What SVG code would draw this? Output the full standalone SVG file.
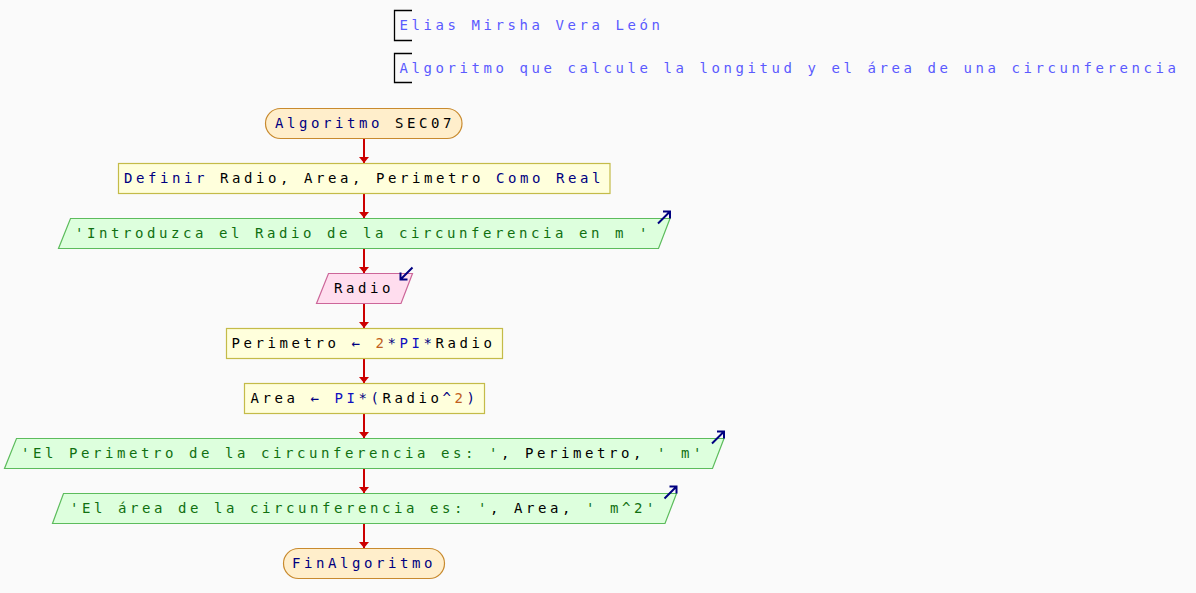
<svg xmlns="http://www.w3.org/2000/svg" width="1196" height="593" viewBox="0 0 1196 593">
<style>
text{font-family:"DejaVu Sans Mono","Liberation Mono",monospace;font-size:14px;letter-spacing:3.57px;fill:#000}
.hdr{fill:#5a5aff}
.kw{fill:#000080}
.str{fill:#107010}
.num{fill:#c06020}
.op{fill:#000080}
.cst{fill:#1010c0}
.term{fill:#ffeecb;stroke:#c88a2e;stroke-width:1.2}
.proc{fill:#ffffdc;stroke:#c4bb48;stroke-width:1.2}
.out{fill:#ddffdd;stroke:#5cbc5c;stroke-width:1.2}
.inp{fill:#ffddee;stroke:#cc6699;stroke-width:1.2}
.brk{fill:none;stroke:#000;stroke-width:1.3}
.icon{fill:none;stroke:#000080;stroke-width:2}
.conn line{stroke:#cc0000;stroke-width:2}
</style>
<defs>
<marker id="ah" viewBox="0 0 6 10" refX="6" refY="5" markerWidth="6" markerHeight="10" markerUnits="userSpaceOnUse" orient="auto">
<path d="M0,0 L6,5 L0,10 z" fill="#cc0000"/>
</marker>
</defs>
<rect x="0" y="0" width="1196" height="593" fill="#fafafa"/>

<g id="header1">
<path class="brk" d="M412,10.5 H394.5 V40.5 H412"/>
<text x="399.5" y="30" class="hdr">Elias Mirsha Vera León</text>
</g>
<g id="header2">
<path class="brk" d="M412,53.5 H394.5 V82.5 H412"/>
<text x="399.5" y="73" class="hdr">Algoritmo que calcule la longitud y el área de una circunferencia</text>
</g>

<g class="conn" id="connectors">
<line x1="364" y1="138.5" x2="364" y2="163" marker-end="url(#ah)"/>
<line x1="364" y1="193.5" x2="364" y2="218" marker-end="url(#ah)"/>
<line x1="364" y1="248.5" x2="364" y2="273" marker-end="url(#ah)"/>
<line x1="364" y1="303.5" x2="364" y2="328" marker-end="url(#ah)"/>
<line x1="364" y1="358.5" x2="364" y2="383" marker-end="url(#ah)"/>
<line x1="364" y1="413.5" x2="364" y2="438" marker-end="url(#ah)"/>
<line x1="364" y1="468.5" x2="364" y2="493" marker-end="url(#ah)"/>
<line x1="364" y1="523.5" x2="364" y2="548" marker-end="url(#ah)"/>
</g>

<g id="start">
<rect class="term" x="265.5" y="108.5" width="196.5" height="30" rx="15" ry="15"/>
<text x="275" y="128"><tspan class="kw">Algoritmo</tspan> SEC07</text>
</g>

<g id="definir">
<rect class="proc" x="118.5" y="163.5" width="491.5" height="30"/>
<text x="124" y="183"><tspan class="kw">Definir</tspan> Radio, Area, Perimetro <tspan class="kw">Como Real</tspan></text>
</g>

<g id="out1">
<polygon class="out" points="70.5,218.5 670,218.5 658.5,248.5 58.5,248.5"/>
<text x="75" y="238" class="str">'Introduzca el Radio de la circunferencia en m '</text>
<path class="icon" d="M658,223.5 L670,211.5 M663,211.5 H670 V218.5"/>
</g>

<g id="input">
<polygon class="inp" points="328.5,273.5 412.5,273.5 401,303.5 316.5,303.5"/>
<text x="334" y="293">Radio</text>
<path class="icon" d="M412.5,267.5 L400.5,279.5 M407.5,279.5 H400.5 V272.5"/>
</g>

<g id="perimetro">
<rect class="proc" x="226.5" y="328.5" width="276" height="30"/>
<text x="231.5" y="348">Perimetro <tspan class="op">←</tspan> <tspan class="num">2</tspan><tspan class="op">*</tspan><tspan class="cst">PI</tspan><tspan class="op">*</tspan>Radio</text>
</g>

<g id="area">
<rect class="proc" x="244.5" y="383.5" width="240" height="30"/>
<text x="250.5" y="403">Area <tspan class="op">←</tspan> <tspan class="cst">PI</tspan><tspan class="op">*(</tspan>Radio<tspan class="op">^</tspan><tspan class="num">2</tspan><tspan class="op">)</tspan></text>
</g>

<g id="out2">
<polygon class="out" points="16.5,438.5 724,438.5 712.5,468.5 4.5,468.5"/>
<text x="21" y="458"><tspan class="str">'El Perimetro de la circunferencia es: '</tspan>, Perimetro, <tspan class="str">' m'</tspan></text>
<path class="icon" d="M712,443.5 L724,431.5 M717,431.5 H724 V438.5"/>
</g>

<g id="out3">
<polygon class="out" points="63.5,493.5 676.5,493.5 665,523.5 52.5,523.5"/>
<text x="70" y="513"><tspan class="str">'El área de la circunferencia es: '</tspan>, Area, <tspan class="str">' m^2'</tspan></text>
<path class="icon" d="M664.5,498.5 L676.5,486.5 M669.5,486.5 H676.5 V493.5"/>
</g>

<g id="end">
<rect class="term" x="283.5" y="548.5" width="161" height="30" rx="15" ry="15"/>
<text x="292" y="568" class="kw">FinAlgoritmo</text>
</g>
</svg>
